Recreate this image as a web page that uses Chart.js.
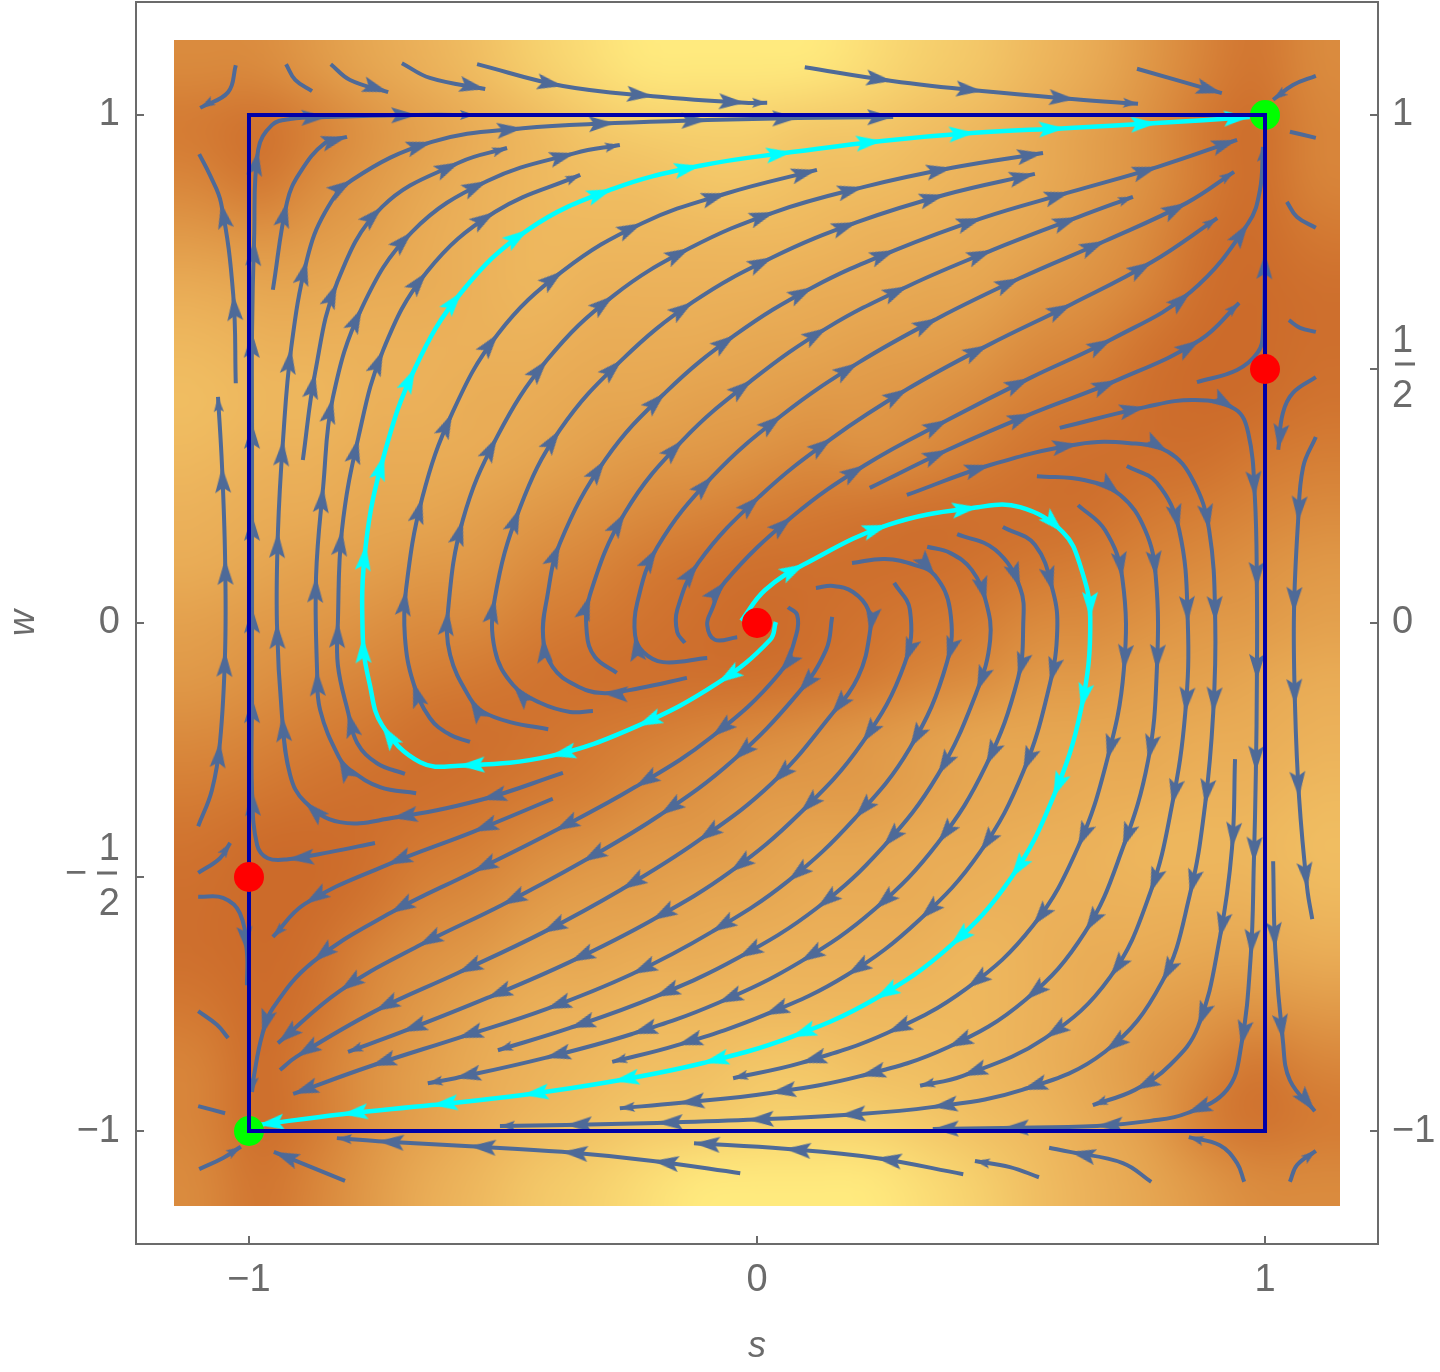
<!DOCTYPE html>
<html>
<head>
<meta charset="utf-8">
<title>Stream density plot</title>
<script src="https://cdn.jsdelivr.net/npm/chart.js@4/dist/chart.umd.js"></script>
<style>html,body{margin:0;padding:0;background:#fff}canvas{display:block}</style>
</head>
<body>
<canvas id="c" width="1440" height="1372"></canvas>
<script>
// Tick values
const xTicks = [-1, 0, 1];
const leftTicks = [-1, -0.5, 0, 1];
const rightTicks = [-1, 0, 0.5, 1];

// Fixed points and invariant square
const greenPoints = [[-1, -1], [1, 1]];
const redPoints = [[0, 0], [1, 0.5], [-1, -0.5]];
const squareEdge = [[-1, -1], [1, -1], [1, 1], [-1, 1], [-1, -1]];

// Colour level of the density background (0 dark .. 9 yellow), top row first
const densityExtent = 1.1476;
const densityRows = [
 [3,3,4,5,6,7,8,8.5,9,9,9,9,8.5,8,7.5,6.5,5.5,4,2.5,1,3],
 [1.5,.5,2,3.5,4.5,5.5,6.5,7.5,8,8,8,7.5,7.5,7,6.5,5.5,4.5,3.5,1.5,0,2.5],
 [2.5,1,3,4,5,6,6.5,7,7,7.5,7.5,7,7,6.5,6,5.5,4.5,3.5,2,0,2.5],
 [4,3.5,4,4.5,5.5,6,6.5,6.5,6.5,6.5,6.5,6.5,6,6,5.5,5,4,3,1,0,1.5],
 [5.5,5,5,5.5,5.5,6,6.5,6,6,6,6,5.5,5.5,5,5,4,3.5,2.5,.5,0,.5],
 [6.5,6,6,6,6,6,6,5.5,5.5,5.5,5,5,4.5,4.5,4,3,2.5,1,0,0,.5],
 [7,6.5,6.5,6,6,5.5,5.5,5,5,4.5,4.5,4,4,3.5,3,2,1.5,.5,0,0,1],
 [6.5,6,6,5.5,5.5,5.5,5,4.5,4,4,3.5,3,3.5,3,2,1,.5,.5,.5,1.5,2],
 [6,5.5,5.5,5,5,4.5,4,3.5,3,2.5,2,1.5,1,.5,.5,.5,.5,1.5,2,2.5,3],
 [5.5,5,4.5,4.5,4,4,3,2.5,1.5,1,.5,.5,.5,.5,1,1.5,2,2.5,3,3.5,4],
 [4.5,4,4,3.5,3,3,2,1.5,1,.5,0,.5,1,1.5,2,3,3,3.5,4,4,4.5],
 [4,3.5,3,2.5,2,1.5,1,.5,.5,.5,.5,1,1.5,2.5,3,4,4,4.5,4.5,5,5.5],
 [3,2.5,2,1.5,.5,.5,1,1.5,2,2.5,3,3.5,4,4.5,5,5,5,5,5.5,5.5,6],
 [2,1.5,1,.5,.5,1,1.5,2,3,3.5,4,4,4,4.5,5,5,5.5,5.5,6,6,6.5],
 [1,0,0,.5,1.5,2,3,3.5,4,4,4.5,5,5,5.5,5.5,6,6,6.5,6.5,6.5,7],
 [.5,0,0,1,2.5,3,4,4.5,4.5,5,5,5.5,5.5,5.5,6,6,6,6,6,6,6.5],
 [.5,0,.5,2.5,3.5,4,5,5,5.5,5.5,6,6,6,6,6.5,6,5.5,5.5,5,5,5.5],
 [1.5,0,1,3,4,5,6,6,6.5,6.5,6.5,6.5,6.5,6.5,6.5,6,5.5,4.5,4,3.5,4],
 [2.5,0,2,3.5,4.5,5.5,6,6.5,7,7,7.5,7.5,7,7,6.5,6,5,4,3,1,2.5],
 [2.5,0,1.5,3.5,4.5,5.5,6.5,7,7.5,7.5,8,8,8,7.5,7,6.5,5.5,4.5,2,.5,1.5],
 [3,1,2.5,4,5.5,6.5,7.5,8,8.5,9,9,9,9,8.5,8,7,6,5,4,3,3]
];
const densityColors = [[204,107,42],[208,115,47],[213,126,53],[218,139,62],[224,153,72],[230,167,82],[235,177,90],[240,190,98],[246,208,109],[255,234,126]];

// Streamlines: [s, w] vertices in flow order. Arrow tips sit on vertices; third value 0 = no arrow, 2 = small arrow.
const lineL1=[[-1.100,-.400],[-1.073,-.329,0],[-1.057,-.234],[-1.047,-.055],[-1.047,.126],[-1.053,.307],[-1.061,.445,2]];
const lineL2=[[-1.026,.472],[-1.031,.646],[-1.055,.827],[-1.077,.882,0],[-1.098,.923,0]];
const lineL3=[[-.752,-.433],[-.841,-.451,0],[-.923,-.465],[-.963,-.463,0],[-.984,-.437,0],[-.994,-.329],[-.994,-.146],[-.994,.031],[-.994,.213],[-.994,.394],[-.994,.573],[-.990,.754],[-.982,.931],[-.955,.980,0],[-.919,.992,0],[-.846,.996],[-.669,1.0],[-.555,1.0,2]];
const lineLa=[[-.382,-.295],[-.543,-.348],[-.719,-.384],[-.821,-.392,0],[-.890,-.352],[-.919,-.299,0],[-.935,-.183],[-.945,0],[-.943,.179],[-.933,.360],[-.917,.541],[-.886,.715],[-.850,.809,0],[-.797,.872],[-.640,.947],[-.461,.974],[-.280,.984],[-.098,.990],[.081,.994],[.268,.996]];
const lineL4=[[-.953,.656],[-.925,.829],[-.900,.886,0],[-.850,.945,0],[-.807,.957]];
const lineL5=[[-.894,.321],[-.870,.492],[-.827,.669],[-.738,.819],[-.585,.907],[-.492,.935,2]];
const lineC=[[-.671,-.335],[-.742,-.323,0],[-.801,-.289,0],[-.823,-.264],[-.860,-.171,0],[-.866,-.093],[-.868,.091],[-.854,.268],[-.835,.443],[-.778,.620],[-.679,.770],[-.531,.870],[-.358,.925],[-.270,.941,2]];
const lineE=[[-.693,-.297],[-.748,-.276,0],[-.787,-.236,0],[-.805,-.175],[-.825,-.083,0],[-.825,.002],[-.817,.183],[-.785,.364],[-.736,.537],[-.650,.691],[-.516,.809],[-.348,.882,2]];
const lineF=[[-.565,-.234],[-.604,-.220,0],[-.644,-.187,0],[-.677,-.116],[-.693,-.028,0],[-.691,.065],[-.659,.246],[-.600,.413],[-.510,.569],[-.382,.693],[-.226,.787],[-.059,.846],[.118,.892]];
const lineG=[[-.411,-.209],[-.486,-.195,0],[-.539,-.175,0],[-.565,-.148],[-.604,-.063,0],[-.608,.026],[-.579,.203],[-.512,.366],[-.413,.518],[-.283,.644],[-.132,.738],[.035,.809],[.209,.858],[.384,.896],[.563,.925]];
const lineH=[[-.323,-.173],[-.368,-.175,0],[-.427,-.157,0],[-.480,-.122],[-.516,-.053,0],[-.516,.049],[-.467,.226],[-.388,.380],[-.266,.518],[-.126,.632],[.031,.720],[.197,.789],[.370,.843],[.547,.884]];
const lineI=[[-.138,-.108],[-.230,-.128,0],[-.305,-.138],[-.358,-.122,0],[-.402,-.087,0],[-.421,-.028],[-.413,.051,0],[-.388,.157],[-.299,.321],[-.181,.453],[-.043,.567],[.110,.661],[.272,.734],[.443,.797],[.616,.848],[.789,.898],[.945,.951]];
const lineJ=[[-.276,-.098],[-.319,-.067,0],[-.335,-.020,0],[-.329,.055],[-.260,.217],[-.146,.360],[-.010,.478],[.138,.581],[.297,.663],[.463,.734],[.632,.799],[.740,.839,2]];
const lineK=[[-.098,-.069],[-.185,-.077,0],[-.224,-.057,0],[-.240,-.024],[-.236,.039,0],[-.197,.148],[-.087,.289],[.049,.409],[.199,.512],[.356,.600],[.518,.679],[.685,.752],[.846,.827],[.939,.888,2]];
const lineLL=[[-.142,-.039],[-.157,-.018,0],[-.157,.026,0],[-.116,.118],[.006,.250],[.148,.364],[.297,.461],[.455,.547],[.620,.628],[.778,.711],[.906,.797,2]];
const lineM=[[-.039,-.028],[-.083,-.033,0],[-.098,-.004,0],[-.089,.026,0],[-.063,.081],[.069,.209],[.213,.311],[.376,.400],[.537,.482],[.699,.559],[.854,.652],[.967,.787],[.990,.852,0],[.996,.937,2]];
const lineO=[[.222,.266],[.376,.341],[.543,.413],[.709,.478],[.872,.557],[.949,.630,2]];
const lineP=[[.295,.252],[.459,.311],[.632,.352],[.734,.354,0],[.809,.337],[.858,.281,0],[.890,.183],[.902,.002],[.898,-.177],[.882,-.358],[.852,-.535],[.797,-.707],[.685,-.844],[.522,-.919],[.344,-.953],[.163,-.969],[-.018,-.978],[-.197,-.984],[-.376,-.988],[-.506,-.990,2]];
const lineQ=[[.551,.289],[.646,.281,0],[.715,.252],[.764,.183,0],[.785,.091],[.787,-.093],[.770,-.270],[.720,-.443],[.646,-.608],[.528,-.742],[.376,-.835],[.203,-.892],[.026,-.925],[-.154,-.945],[-.270,-.955,2]];
const lineR=[[.728,.309],[.787,.276,0],[.831,.183],[.848,.002],[.843,-.177],[.817,-.358],[.774,-.531],[.695,-.697],[.567,-.817],[.404,-.892],[.321,-.911,2]];
const lineS=[[.632,.232],[.685,.183,0],[.719,.089],[.722,-.093],[.689,-.270],[.632,-.441],[.543,-.596],[.413,-.719],[.256,-.807],[.087,-.866],[-.047,-.896,2]];
const lineV=[[.484,.189],[.547,.154,0],[.583,.061],[.591,-.014,0],[.577,-.118],[.524,-.293],[.439,-.451],[.321,-.583],[.177,-.693],[.014,-.772],[-.157,-.831],[-.285,-.864,2]];
const lineU=[[.394,.175],[.469,.144,0],[.518,.069],[.524,-.004,0],[.514,-.108],[.451,-.280],[.356,-.433],[.232,-.563],[.085,-.667],[-.077,-.748],[-.246,-.809],[-.417,-.856],[-.594,-.896],[-.648,-.906,2]];
const lineA6=[[.335,.150],[.380,.138,0],[.423,.104,0],[.451,.041],[.459,-.033,0],[.433,-.134],[.356,-.299],[.248,-.441],[.118,-.561],[-.037,-.659],[-.201,-.736],[-.368,-.797],[-.510,-.841,2]];
const lineA5=[[.270,.079],[.301,.026,0],[.291,-.079],[.207,-.236],[.085,-.374],[-.053,-.490],[-.207,-.585],[-.368,-.667],[-.531,-.738],[-.699,-.805],[-.805,-.844,2]];
const lineA4=[[.187,.118],[.252,.126,0],[.311,.114,0],[.350,.094],[.380,.026,0],[.374,-.077],[.301,-.246],[.193,-.384],[.061,-.508],[-.089,-.608],[-.246,-.691],[-.415,-.760],[-.589,-.817],[-.760,-.872],[-.913,-.927]];
const lineA3=[[.116,.069],[.150,.073,0],[.189,.061,0],[.219,.026,0],[.222,-.020],[.199,-.106,0],[.146,-.181],[.030,-.315],[-.116,-.429],[-.266,-.524],[-.423,-.610],[-.589,-.689],[-.752,-.764],[-.907,-.854],[-.939,-.880,0]];
const lineA2=[[.148,.012],[.136,-.053,0],[.081,-.138],[-.047,-.270],[-.191,-.378],[-.344,-.470],[-.502,-.555],[-.667,-.636],[-.821,-.724],[-.943,-.827]];
const lineA1=[[.061,.031],[.079,.016,0],[.077,-.024,0],[.045,-.098],[-.089,-.224],[-.240,-.323],[-.398,-.409],[-.559,-.490],[-.722,-.571],[-.874,-.667],[-.953,-.758,0],[-.974,-.811],[-.990,-.890,0],[-.994,-.923,2]];
const lineW=[[-.402,-.346],[-.559,-.411],[-.728,-.476],[-.890,-.553],[-.953,-.618,2]];
const lineN=[[.596,.384],[.764,.425],[.862,.439,0],[.941,.421],[.967,.374,0],[.980,.248],[.984,.069],[.984,-.112],[.982,-.293],[.978,-.472],[.972,-.654],[.953,-.833],[.925,-.919,0],[.846,-.965],[.774,-.980,0],[.669,-.990],[.484,-.994],[.346,-.996]];
const lineT=[[.941,-.268],[.935,-.443],[.911,-.620],[.868,-.795],[.813,-.870,0],[.744,-.919],[.661,-.949,2]];
const lineY1=[[.866,.474],[.945,.498,0],[.986,.533,0],[.996,.571,0],[1.0,.728]];
const lineT1=[[-1.026,1.098],[-1.041,1.045,0],[-1.096,1.014,2]];
const lineT2=[[-.927,1.100],[-.909,1.069,0],[-.876,1.047,0]];
const lineT3=[[-.839,1.100],[-.801,1.069,0],[-.726,1.045]];
const lineT4=[[-.699,1.102],[-.644,1.073,0],[-.535,1.051]];
const lineT5=[[-.551,1.100],[-.382,1.057],[-.205,1.037],[-.024,1.024],[.020,1.024,2]];
const lineT6=[[.094,1.094],[.266,1.067],[.443,1.047],[.626,1.031],[.750,1.022,2]];
const lineT7=[[.748,1.091],[.915,1.043]];
const lineT8=[[1.100,1.077],[1.055,1.059,0],[1.016,1.030,2]];
const lineR1=[[1.049,.967],[1.100,.955,0]];
const lineR2=[[1.043,.829],[1.063,.799,0],[1.100,.778,0]];
const lineR3=[[1.047,.596],[1.069,.581,0],[1.100,.573,0]];
const lineR4=[[1.100,.484],[1.055,.453,0],[1.035,.413,0],[1.026,.341]];
const lineR5=[[1.100,.366],[1.075,.307,0],[1.065,.199],[1.057,.020],[1.059,-.161],[1.067,-.343],[1.083,-.522],[1.093,-.583,0]];
const lineR6=[[1.016,-.469],[1.020,-.640],[1.035,-.821],[1.049,-.900,0],[1.098,-.961]];
const lineB1=[[-1.100,-.492],[-1.057,-.463,0],[-1.037,-.433,2]];
const lineB2=[[-1.100,-.539],[-1.051,-.541,0],[-1.018,-.571,0],[-1.004,-.648],[-1.004,-.713,0]];
const lineB3=[[-1.100,-.764],[-1.063,-.791,0],[-1.041,-.817,0]];
const lineB4=[[-1.100,-.951],[-1.047,-.965,0]];
const lineB5=[[-1.098,-1.075],[-1.051,-1.053,0],[-1.016,-1.031,2]];
const lineB6=[[-.811,-1.098],[-.951,-1.041]];
const lineD1=[[-.033,-1.083],[-.205,-1.059],[-.384,-1.041],[-.565,-1.030],[-.746,-1.020],[-.827,-1.014,2]];
const lineD2=[[.406,-1.085],[.234,-1.053],[.055,-1.035],[-.124,-1.024]];
const lineD3=[[.555,-1.091],[.498,-1.071,0],[.429,-1.059,2]];
const lineD4=[[.776,-1.100],[.720,-1.063,0],[.616,-1.041],[.575,-1.033,0]];
const lineD5=[[.959,-1.100],[.945,-1.063,0],[.911,-1.028,0],[.850,-1.012,2]];
const lineD6=[[1.049,-1.100],[1.063,-1.067,0],[1.100,-1.039,2]];
const cyanA=[[-.031,.004],[.016,.065,0],[.094,.116],[.258,.193],[.435,.228],[.518,.228,0],[.602,.179],[.636,.114,0],[.656,.010],[.638,-.169],[.583,-.343],[.500,-.502],[.380,-.636],[.232,-.740],[.067,-.815],[-.106,-.866],[-.283,-.902],[-.461,-.929],[-.640,-.949],[-.817,-.967],[-.982,-.988]];
const cyanB=[[.037,.002],[.026,-.033,0],[-.077,-.118],[-.236,-.203],[-.407,-.262],[-.587,-.281],[-.663,-.274,0],[-.738,-.201],[-.762,-.122,0],[-.776,-.028],[-.770,.154],[-.734,.331],[-.673,.502],[-.581,.652],[-.451,.774],[-.285,.854],[-.112,.900],[.069,.927],[.246,.949],[.429,.965],[.606,.974],[.787,.984],[.970,.996]];

const blueLines=[lineL1,lineL2,lineL3,lineLa,lineL4,lineL5,lineC,lineE,lineF,lineG,lineH,lineI,lineJ,lineK,lineLL,lineM,lineO,lineP,lineQ,lineR,lineS,lineV,lineU,lineA6,lineA5,lineA4,lineA3,lineA2,lineA1,lineW,lineN,lineT,lineY1,lineT1,lineT2,lineT3,lineT4,lineT5,lineT6,lineT7,lineT8,lineR1,lineR2,lineR3,lineR4,lineR5,lineR6,lineB1,lineB2,lineB3,lineB4,lineB5,lineB6,lineD1,lineD2,lineD3,lineD4,lineD5,lineD6];
const cyanLines=[cyanA,cyanB];

const GRAY='#6b6b6b', BLUE='#4e6a98', CYAN='#00ffff', AXIS_MAX=1.2224;

function dart(color,len,wid){
  const size=Math.ceil(len*2+4), c=document.createElement('canvas'); c.width=c.height=size;
  const g=c.getContext('2d'), m=size/2;
  g.fillStyle=color; g.beginPath(); g.moveTo(m,m); g.lineTo(m+wid/2,m+len); g.lineTo(m,m+len*0.8); g.lineTo(m-wid/2,m+len); g.closePath(); g.fill();
  return c;
}
function streamDataset(pts,color,big,small,order,width){
  const radius=[],style=[],rot=[];
  pts.forEach((p,i)=>{
    const flag=p.length>2?p[2]:1, a=pts[Math.max(i-1,0)], b=pts[Math.min(i+1,pts.length-1)];
    const show=i>0&&flag!==0;
    radius.push(show?6:0); style.push(flag===2?small:big);
    rot.push(Math.atan2(b[0]-a[0],b[1]-a[1])*180/Math.PI);
  });
  return {data:pts.map(p=>({x:p[0],y:p[1]})),showLine:true,borderColor:color,backgroundColor:color,borderWidth:width,tension:0.4,pointRadius:radius,pointHoverRadius:radius,pointStyle:style,pointRotation:rot,order};
}
const bigBlue=dart(BLUE,26,16), smallBlue=dart(BLUE,15,10), bigCyan=dart(CYAN,26,16), smallCyan=dart(CYAN,15,10);
const datasets=[];
blueLines.forEach(l=>datasets.push(streamDataset(l,BLUE,bigBlue,smallBlue,5,4)));
cyanLines.forEach(l=>datasets.push(streamDataset(l,CYAN,bigCyan,smallCyan,4,4.5)));
datasets.push({data:greenPoints.map(p=>({x:p[0],y:p[1]})),pointRadius:15,pointBackgroundColor:'#00ff00',pointBorderWidth:0,showLine:false,clip:false,order:3});
datasets.push({data:squareEdge.map(p=>({x:p[0],y:p[1]})),showLine:true,borderColor:'#0000a8',borderWidth:4,pointRadius:0,tension:0,borderCapStyle:'square',borderJoinStyle:'miter',order:2});
datasets.push({data:redPoints.map(p=>({x:p[0],y:p[1]})),pointRadius:15,pointBackgroundColor:'#ff0000',pointBorderWidth:0,showLine:false,clip:false,order:1});

function levelColor(v){
  const i=Math.min(Math.floor(v),densityColors.length-2),f=v-i,a=densityColors[i],b=densityColors[i+1];
  return [0,1,2].map(n=>Math.round(a[n]+(b[n]-a[n])*f));
}
const densityPlugin={id:'density',beforeDatasetsDraw(chart){
  const {ctx,scales:{x,y}}=chart, rows=densityRows.length, cols=densityRows[0].length;
  const off=document.createElement('canvas'); off.width=cols+2; off.height=rows+2;
  const g=off.getContext('2d'), img=g.createImageData(cols+2,rows+2);
  for(let r=0;r<rows+2;r++)for(let c=0;c<cols+2;c++){
    const v=densityRows[Math.min(Math.max(r-1,0),rows-1)][Math.min(Math.max(c-1,0),cols-1)],col=levelColor(v),k=(r*(cols+2)+c)*4;
    img.data[k]=col[0];img.data[k+1]=col[1];img.data[k+2]=col[2];img.data[k+3]=255;
  }
  g.putImageData(img,0,0);
  const l=x.getPixelForValue(-densityExtent),rt=x.getPixelForValue(densityExtent),t=y.getPixelForValue(densityExtent),b=y.getPixelForValue(-densityExtent);
  const cw=(rt-l)/cols,ch=(b-t)/rows;
  ctx.save(); ctx.beginPath(); ctx.rect(l,t,rt-l,b-t); ctx.clip();
  ctx.imageSmoothingEnabled=true; ctx.imageSmoothingQuality='high'; ctx.filter='blur(18px)';
  ctx.drawImage(off,l-cw,t-ch,rt-l+2*cw,b-t+2*ch); ctx.restore();
}};
const fractionPlugin={id:'fractions',afterDraw(chart){
  const {ctx,scales:{y,yRight}}=chart; ctx.save(); ctx.fillStyle=GRAY;
  const yl=y.getPixelForValue(-0.5)-4, yr=yRight.getPixelForValue(0.5)-5;
  ctx.fillRect(97,yl-1.5,20,3); ctx.fillRect(1395,yr-1.5,20,3);
  ctx.font='38px "Liberation Sans"'; ctx.textAlign='center'; ctx.textBaseline='middle';
  ctx.fillText('\u2212',76,yl+2); ctx.restore();
}};
const axisBase={type:'linear',min:-AXIS_MAX,max:AXIS_MAX,border:{color:GRAY,width:2},grid:{drawOnChartArea:false,color:GRAY,lineWidth:2,tickLength:-8}};
const tickFont={family:'"Liberation Sans"',size:38,lineHeight:1.47};
const fmt=v=>v===0?'0':v===1?'1':v===-1?'\u22121':['1','2'];
const noPad=s=>{s.paddingTop=0;s.paddingBottom=0;s.paddingLeft=0;s.paddingRight=0;};
new Chart(document.getElementById('c'),{
  type:'scatter',
  data:{datasets},
  plugins:[densityPlugin,fractionPlugin],
  options:{
    responsive:false,animation:false,events:[],
    layout:{padding:0,autoPadding:false},
    plugins:{legend:{display:false},tooltip:{enabled:false}},
    scales:{
      x:{...axisBase,position:'bottom',afterFit:s=>{s.height=128;noPad(s)},afterBuildTicks:s=>{s.ticks=xTicks.map(v=>({value:v}))},
        ticks:{color:GRAY,font:tickFont,padding:17,maxRotation:0,autoSkip:false,callback:fmt},
        title:{display:true,text:'s',color:GRAY,font:{family:'"Liberation Sans"',size:36,style:'italic'},padding:{top:0,bottom:3}}},
      xTop:{...axisBase,position:'top',afterFit:s=>{s.height=2;noPad(s)},ticks:{display:false},grid:{display:false},border:{color:GRAY,width:2}},
      y:{...axisBase,position:'left',afterFit:s=>{s.width=136;noPad(s)},afterBuildTicks:s=>{s.ticks=leftTicks.map(v=>({value:v}))},
        ticks:{color:GRAY,font:tickFont,padding:24,autoSkip:false,callback:fmt},
        title:{display:true,text:'w',color:GRAY,font:{family:'"Liberation Sans"',size:36,style:'italic'},padding:{top:2,bottom:0}}},
      yRight:{...axisBase,position:'right',afterFit:s=>{s.width=62;noPad(s)},afterBuildTicks:s=>{s.ticks=rightTicks.map(v=>({value:v}))},
        ticks:{color:GRAY,font:tickFont,padding:22,autoSkip:false,callback:fmt}}
    }
  }
});
</script>
</body>
</html>
